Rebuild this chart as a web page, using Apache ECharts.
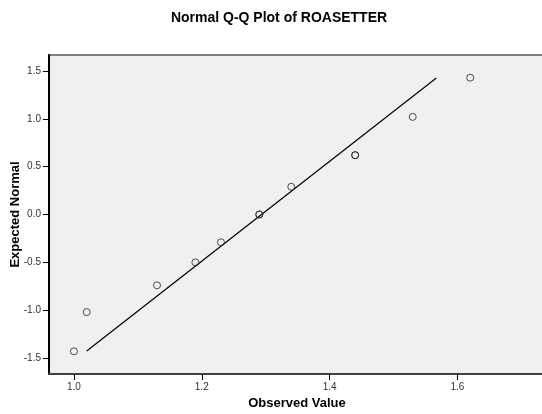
<!DOCTYPE html>
<html>
<head>
<meta charset="utf-8">
<script src="https://cdn.jsdelivr.net/npm/echarts@6/dist/echarts.min.js"></script>
<style>
html, body { margin: 0; padding: 0; background: #fff; }
#main { width: 542px; height: 414px; }
</style>
</head>
<body>
<div id="main"></div>
<script>
// observed values and their expected normal scores (ties share a score)
var observed = [1.00, 1.02, 1.13, 1.19, 1.23, 1.29, 1.29, 1.34, 1.44, 1.44, 1.53, 1.62];
var expected = [-1.43, -1.02, -0.74, -0.50, -0.29, 0.00, 0.00, 0.29, 0.62, 0.62, 1.02, 1.43];
// reference line ends
var lineX = [1.02, 1.567];
var lineY = [-1.426, 1.426];
var xTicks = [1.0, 1.2, 1.4, 1.6];
var yTicks = [-1.5, -1.0, -0.5, 0.0, 0.5, 1.0, 1.5];

var font = 'Liberation Sans, Arial, sans-serif';

var points = observed.map(function (v, i) {
    return [v, expected[i]];
});
var lineData = lineX.map(function (v, i) {
    return [v, lineY[i]];
});

var myChart = echarts.init(document.getElementById('main'));
var options = {
    animation: false,
    title: {
        text: 'Normal Q-Q Plot of ROASETTER',
        left: 274,
        textAlign: 'center',
        top: 6,
        textStyle: { fontFamily: font, fontSize: 14, fontWeight: 'bold', color: '#000' }
    },
    grid: {
        left: 49,
        right: -3,
        top: 55,
        bottom: 40,
        outerBoundsMode: 'none',
        show: true,
        backgroundColor: '#f0f0f0',
        borderColor: '#808080',
        borderWidth: 2
    },
    xAxis: {
        type: 'value',
        min: 0.961,
        max: 1.737,
        name: 'Observed Value',
        nameLocation: 'middle',
        nameGap: 23,
        nameTextStyle: { fontFamily: font, fontSize: 13, fontWeight: 'bold', color: '#000' },
        splitLine: { show: false },
        axisLine: { show: true, onZero: false, lineStyle: { color: '#404040', width: 2 } },
        axisTick: { show: true, length: 6, customValues: xTicks, lineStyle: { color: '#000', width: 1 } },
        axisLabel: {
            customValues: xTicks,
            margin: 8,
            fontFamily: font,
            fontSize: 10,
            color: '#333',
            formatter: function (v) { return v.toFixed(1); }
        }
    },
    yAxis: {
        type: 'value',
        min: -1.667,
        max: 1.667,
        name: 'Expected Normal',
        nameLocation: 'middle',
        nameGap: 27,
        nameMoveOverlap: false,
        nameTextStyle: { fontFamily: font, fontSize: 13, fontWeight: 'bold', color: '#000' },
        splitLine: { show: false },
        axisLine: { show: true, onZero: false, lineStyle: { color: '#000', width: 2 } },
        axisTick: { show: true, length: 6, customValues: yTicks, lineStyle: { color: '#000', width: 1 } },
        axisLabel: {
            customValues: yTicks,
            margin: 8,
            fontFamily: font,
            fontSize: 10,
            color: '#333',
            formatter: function (v) { return v.toFixed(1); }
        }
    },
    series: [
        {
            type: 'line',
            data: lineData,
            symbol: 'none',
            lineStyle: { color: '#000', width: 1.2 },
            z: 2
        },
        {
            type: 'scatter',
            data: points,
            symbol: 'circle',
            symbolSize: 7,
            itemStyle: { color: 'rgba(0,0,0,0)', borderColor: '#222', borderWidth: 1 },
            z: 3
        }
    ]
};
myChart.setOption(options);
</script>
</body>
</html>
